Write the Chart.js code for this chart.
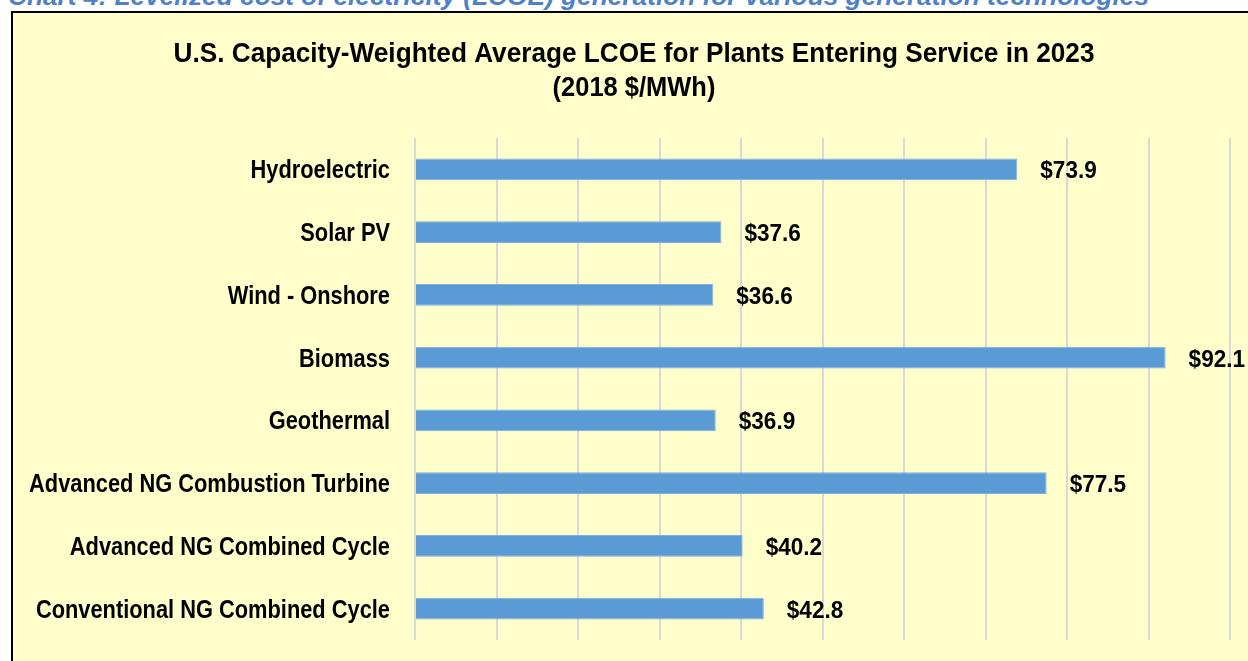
<!DOCTYPE html>
<html>
<head>
<meta charset="utf-8">
<script src="https://cdn.jsdelivr.net/npm/chart.js@4"></script>
<style>
  html, body { margin: 0; padding: 0; background: #fff; overflow: hidden; width: 1248px; height: 661px; }
  #caption {
    position: absolute; left: 8px; top: -17px;
    font: italic bold 26px "Liberation Sans", Arial, sans-serif;
    line-height: 26px; color: #4F81C6; white-space: nowrap;
    transform-origin: 0 0; transform: scaleX(1.01);
  }
  #box {
    position: absolute; left: 11px; top: 11px; width: 1260px; height: 700px;
    border-left: 2px solid #000; border-top: 2px solid #000;
    background: #FFFFCC;
  }
  #wrap { position: absolute; left: 0; top: 0; width: 1243px; height: 660px; }
</style>
</head>
<body>
<div id="caption">Chart 4: Levelized cost of electricity (LCOE) generation for various generation technologies</div>
<div id="box">
  <div id="wrap"><canvas id="lcoe"></canvas></div>
</div>
<script>
// Chart data
const technologies = [
  "Hydroelectric",
  "Solar PV",
  "Wind - Onshore",
  "Biomass",
  "Geothermal",
  "Advanced NG Combustion Turbine",
  "Advanced NG Combined Cycle",
  "Conventional NG Combined Cycle"
];
const lcoeValues = [73.9, 37.6, 36.6, 92.1, 36.9, 77.5, 40.2, 42.8];
const titleLines = [
  "U.S. Capacity-Weighted Average LCOE for Plants Entering Service in 2023",
  "(2018 $/MWh)"
];

const FONT = '"Liberation Sans", Arial, sans-serif';

// narrow-looking text: draw with a horizontal squeeze
function narrowText(ctx, text, x, y, size, squeeze, align) {
  ctx.save();
  ctx.font = "bold " + size + "px " + FONT;
  ctx.textAlign = align;
  ctx.textBaseline = "alphabetic";
  ctx.translate(x, y);
  ctx.scale(squeeze, 1);
  ctx.fillText(text, 0, 0);
  ctx.restore();
}

// title, category labels and "$xx.x" values
const textLayer = {
  id: "textLayer",
  afterDatasetsDraw(chart) {
    const ctx = chart.ctx;
    const area = chart.chartArea;
    const yScale = chart.scales.y;
    ctx.fillStyle = "#000";

    narrowText(ctx, titleLines[0], 621, 49, 28, 0.935, "center");
    narrowText(ctx, titleLines[1], 621, 83, 28, 0.91, "center");

    technologies.forEach((name, i) => {
      narrowText(ctx, name, area.left - 25, yScale.getPixelForValue(i) + 9, 25, 0.873, "right");
    });

    chart.getDatasetMeta(0).data.forEach((bar, i) => {
      narrowText(ctx, "$" + lcoeValues[i].toFixed(1), bar.x + 23, bar.y + 9, 24, 0.94, "left");
    });
  }
};

const ctx = document.getElementById("lcoe").getContext("2d");
const lcoeChart = new Chart(ctx, {
  type: "bar",
  data: {
    labels: technologies,
    datasets: [{
      data: lcoeValues,
      backgroundColor: "#5B9BD5",
      borderColor: "#7FAFE0",
      borderWidth: 1,
      barPercentage: 0.7,
      categoryPercentage: 0.5
    }]
  },
  options: {
    indexAxis: "y",
    responsive: true,
    maintainAspectRatio: false,
    animation: false,
    layout: { padding: { left: 0, right: 26, top: 125, bottom: 33 } },
    plugins: {
      legend: { display: false },
      tooltip: { enabled: false },
      title: { display: false }
    },
    scales: {
      x: {
        min: 0,
        max: 100,
        ticks: { display: false, stepSize: 10 },
        grid: { color: "#D9D9D9", lineWidth: 2, drawTicks: false },
        border: { display: false }
      },
      y: {
        ticks: { display: false },
        grid: { display: false, drawTicks: false },
        border: { display: false },
        afterFit(scale) { scale.width = 402; }
      }
    }
  },
  plugins: [textLayer]
});
</script>
</body>
</html>
